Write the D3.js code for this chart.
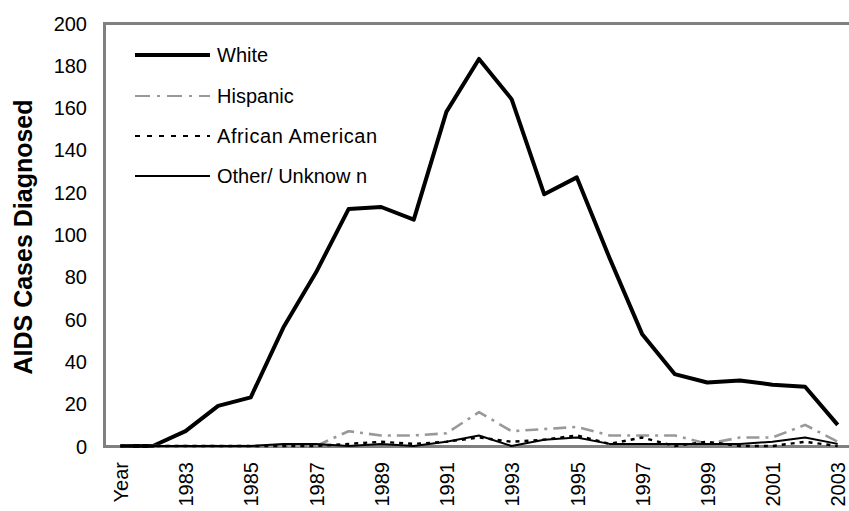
<!DOCTYPE html>
<html><head><meta charset="utf-8">
<script src="https://cdn.jsdelivr.net/npm/d3@7"></script>
<style>body{margin:0;background:#fff}svg{display:block;font-family:"Liberation Sans",Arial,sans-serif}</style>
</head><body><svg id="c" width="849" height="511"></svg>
<script>
const categories = ["Year","1982","1983","1984","1985","1986","1987","1988","1989","1990","1991","1992","1993","1994","1995","1996","1997","1998","1999","2000","2001","2002","2003"];
const white    = [0,0,7,19,23,56,82,112,113,107,158,183,164,119,127,89,53,34,30,31,29,28,10];
const hispanic = [0,0,0,0,0,0,0,7,5,5,6,16,7,8,9,5,5,5,1,4,4,10,2];
const african  = [0,0,0,0,0,0,0,1,2,1,2,4,2,3,5,1,4,0,2,0,0,2,0];
const other    = [0,0,0,0,0,1,1,0,1,0,2,5,0,3,4,1,1,1,1,1,2,4,1];
const seriesNames = ["White","Hispanic","African American","Other/ Unknow n"];
const yTicks = [0,20,40,60,80,100,120,140,160,180,200];

const svg = d3.select("#c");
const x = d3.scalePoint().domain(categories).range([104, 854]).padding(0.5);
const y = d3.scaleLinear().domain([0,200]).range([446, 23]);

const styles = [
  {stroke:"#000", w:4, dash:null, lw:4, ldash:null},
  {stroke:"#999", w:2.6, dash:"13,6,3,6", lw:1.8, ldash:"15,7,3,7"},
  {stroke:"#000", w:2.4, dash:"4,5", lw:2, ldash:"5,7"},
  {stroke:"#000", w:2, dash:null, lw:2, ldash:null}
];
const data = [white, hispanic, african, other];

// axis frame
const gray = "#808080";
svg.append("line").attr("x1",104.5).attr("x2",104.5).attr("y1",22).attr("y2",448).attr("stroke",gray).attr("stroke-width",3);
svg.append("line").attr("x1",103).attr("x2",849).attr("y1",23.5).attr("y2",23.5).attr("stroke",gray).attr("stroke-width",3);
svg.append("line").attr("x1",103).attr("x2",849).attr("y1",446.5).attr("y2",446.5).attr("stroke",gray).attr("stroke-width",3);

// y axis labels
const yAxis = d3.axisLeft(y).tickValues(yTicks).tickSize(0).tickPadding(0);
const gy = svg.append("g").attr("transform","translate(87,0)").call(yAxis);
gy.select(".domain").remove();
gy.selectAll("text").attr("font-size",20).attr("font-family","Liberation Sans, Arial").attr("fill","#000").attr("dy","0.35em");

// x axis labels
const xAxis = d3.axisBottom(x).tickSize(0).tickFormat((d,i)=> i%2===0 ? d : "");
const gx = svg.append("g").attr("transform","translate(0,462)").call(xAxis);
gx.select(".domain").remove();
gx.selectAll("text").attr("font-size",20).attr("font-family","Liberation Sans, Arial").attr("fill","#000")
  .attr("transform","rotate(-90)").attr("text-anchor","end").attr("x",0).attr("y",0).attr("dy","0.36em");

// y title
svg.append("text").attr("transform","translate(32,237) rotate(-90)").attr("text-anchor","middle")
  .attr("font-size",25).attr("font-weight","bold").text("AIDS Cases Diagnosed");

// lines
const line = d3.line().x((d,i)=>x(categories[i])).y(d=>y(d));
data.forEach((s,k)=>{
  svg.append("path").datum(s).attr("d",line).attr("fill","none")
    .attr("stroke",styles[k].stroke).attr("stroke-width",styles[k].w)
    .attr("stroke-dasharray",styles[k].dash).attr("stroke-linejoin","round");
});

// legend
const ly = [55,96,136,176];
seriesNames.forEach((n,k)=>{
  svg.append("line").attr("x1",135).attr("x2",210).attr("y1",ly[k]).attr("y2",ly[k])
    .attr("stroke",styles[k].stroke).attr("stroke-width",styles[k].lw).attr("stroke-dasharray",styles[k].ldash);
  svg.append("text").attr("x",217).attr("y",ly[k]).attr("dy","0.36em").attr("font-size",20)
    .attr("letter-spacing", k===2 ? "0.6px" : null).text(n);
});
</script></body></html>
